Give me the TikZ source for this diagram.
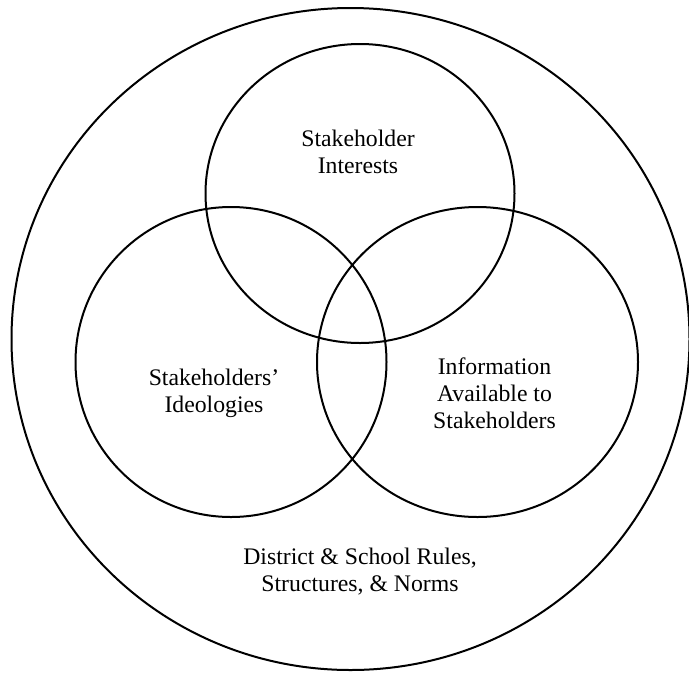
\documentclass[tikz,border=0pt]{standalone}
\usepackage{fontspec}
\setmainfont{Liberation Serif}
\usepackage{tikz}
\usetikzlibrary{positioning}

\begin{document}
\begin{tikzpicture}[x=0.75pt, y=-0.75pt,
    ring/.style={line width=1.5pt},
    venntext/.style={align=center, inner sep=0pt,
      font=\fontsize{17.8}{20.25}\selectfont}]

  \useasboundingbox (0,0) rectangle (689,672);

  % Rahmen
  \draw[ring] (350.5,339) ellipse [x radius=339, y radius=331];

  % Kreise
  \draw[ring] (360,193.5) ellipse [x radius=154.5, y radius=149.5];
  \draw[ring] (231,362) ellipse [x radius=155.5, y radius=155];
  \draw[ring] (477.5,362) ellipse [x radius=160.5, y radius=155];

  % Beschriftungen
  \node[venntext] (interests) at (358,151.4) {Stakeholder\\Interests};
  \node[venntext] (ideologies) at (214,393.8) {Stakeholders’\\Ideologies};
  \node[venntext] (information) at (494.5,393.4) {Information\\Available to\\Stakeholders};
  \node[venntext] (rules) at (360,571.4) {District \& School Rules,\\Structures, \& Norms};

\end{tikzpicture}
\end{document}
